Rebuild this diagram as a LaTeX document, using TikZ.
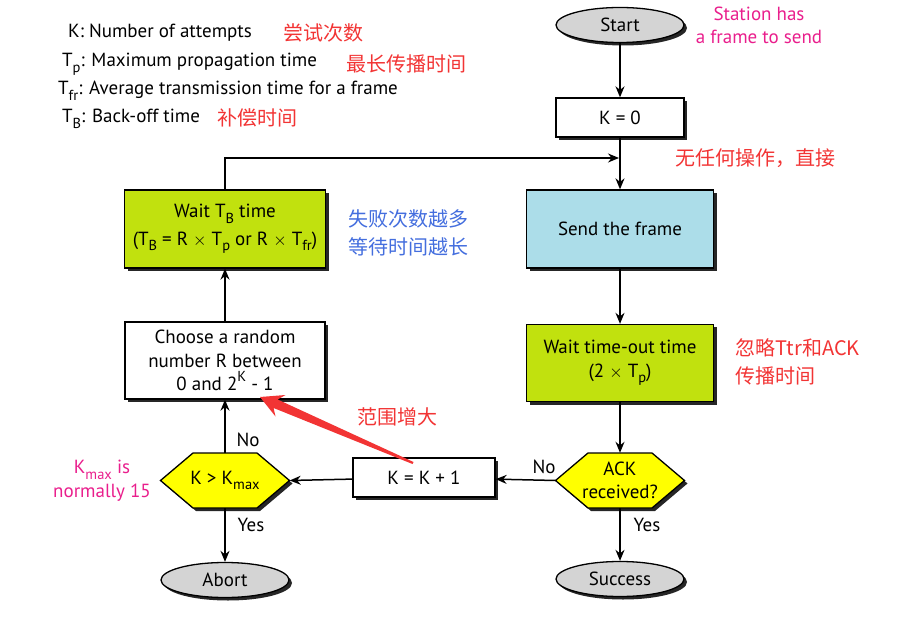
\documentclass[tikz,border=0pt]{standalone}
\usepackage{fontspec}
\setmainfont{PT Sans}
\newfontfamily\cjk{Noto Sans CJK SC}
\usetikzlibrary{shapes.geometric,arrows.meta,shadows,calc}
\definecolor{boxgreen}{RGB}{193,225,14}
\definecolor{boxblue}{RGB}{172,221,233}
\definecolor{termgray}{RGB}{212,212,212}
\definecolor{hexyellow}{RGB}{255,255,0}
\definecolor{magtext}{RGB}{233,30,140}
\definecolor{cnred}{RGB}{242,52,52}
\definecolor{cnblue}{RGB}{68,110,222}
\newcommand\lo[1]{\raisebox{-0.3em}{\fontsize{14.5}{14.5}\selectfont #1}}
\newcommand\hi[1]{\raisebox{0.5em}{\fontsize{14.5}{14.5}\selectfont #1}}
\newcommand\tms{\ensuremath{\times}}
\begin{document}
\begin{tikzpicture}[x=1pt,y=-1pt,
  font=\fontsize{19}{23.5}\selectfont,
  shad/.style={drop shadow={shadow xshift=3pt,shadow yshift=-3pt,fill=black!85,opacity=1}},
  base/.style={draw=black,line width=1.3pt,align=center,inner sep=2pt,shad},
  proc/.style={base,rectangle,fill=white},
  term/.style={base,ellipse,fill=termgray,minimum width=128pt,minimum height=35pt},
  hexa/.style={draw=black,line width=1.3pt,fill=hexyellow,shad},
  dectext/.style={rectangle,minimum width=129pt,minimum height=55pt,inner sep=0pt,align=center},
  flow/.style={line width=1.5pt,-{Stealth[length=11pt,width=9pt]}},
  lbl/.style={inner sep=0pt},
  cn/.style={inner sep=0pt,font=\cjk\fontsize{20}{28}\selectfont},
  note/.style={inner sep=0pt,align=center,text=magtext}]
\useasboundingbox (0,0) rectangle (907,617);

% legend
\node[lbl,anchor=base west] (lk) at (68,38) {K: Number of attempts};
\node[lbl,anchor=base west] (lp) at (62,67) {T\lo{p}: Maximum propagation time};
\node[lbl,anchor=base west] (lf) at (58,95) {T\lo{fr}: Average transmission time for a frame};
\node[lbl,anchor=base west] (lb) at (62,123) {T\lo{B}: Back-off time};
\node[cn,text=cnred,anchor=west] (ck) at (283,33) {尝试次数};
\node[cn,text=cnred,anchor=west] (cp) at (346,64) {最长传播时间};
\node[cn,text=cnred,anchor=west] (cb) at (217,118) {补偿时间};

% right column
\node[term] (start) at (620,25) {Start};
\node[note] (station) at (759,25.5) {Station has\\a frame to send};
\node[proc,minimum width=128pt,minimum height=39pt] (k0) at (620,117.5) {K = 0};
\coordinate (join) at (619,158);
\node[cn,text=cnred,anchor=west] (direct) at (675,158) {无任何操作，直接};
\node[proc,fill=boxblue,minimum width=187pt,minimum height=78pt] (send) at (620,229) {Send the frame};
\node[proc,fill=boxgreen,minimum width=187pt,minimum height=77pt] (waitto) at (620,363) {Wait time-out time\\(2 \tms{} T\lo{p})};
\node[cn,text=cnred,anchor=north west,align=left] (ignore) at (735,338) {忽略Ttr和ACK\\传播时间};

\coordinate (ackc) at (620,480.5);
\filldraw[hexa] ($(ackc)+(-64.5,0)$) -- ($(ackc)+(-32,-27.5)$) -- ($(ackc)+(32,-27.5)$)
  -- ($(ackc)+(64.5,0)$) -- ($(ackc)+(32,27.5)$) -- ($(ackc)+(-32,27.5)$) -- cycle;
\node[dectext] (ack) at (ackc) {ACK\\received?};
\node[term] (success) at (620,579) {Success};

% left column
\node[proc,fill=boxgreen,minimum width=201pt,minimum height=78pt] (waittb) at (225,229) {Wait T\lo{B} time\\[4pt](T\lo{B} = R \tms{} T\lo{p} or R \tms{} T\lo{fr})};
\node[cn,text=cnblue,anchor=north west,align=left] (fail) at (348,209) {失败次数越多\\等待时间越长};
\node[proc,minimum width=200pt,minimum height=77pt] (choose) at (225,360.5) {Choose a random\\number R between\\0 and 2\hi{K} - 1};
\node[proc,minimum width=142pt,minimum height=39pt] (kinc) at (424,477.5) {K = K + 1};

\coordinate (kmaxc) at (225,480.5);
\filldraw[hexa] ($(kmaxc)+(-64.5,0)$) -- ($(kmaxc)+(-32,-27.5)$) -- ($(kmaxc)+(32,-27.5)$)
  -- ($(kmaxc)+(64.5,0)$) -- ($(kmaxc)+(32,27.5)$) -- ($(kmaxc)+(-32,27.5)$) -- cycle;
\node[dectext] (kmax) at (kmaxc) {K > K\lo{max}};
\node[term] (abort) at (225,580) {Abort};
\node[note] (kmaxnote) at (102,480.5) {K\lo{max} is\\normally 15};

% connectors
\draw[flow] (start) -- (k0);
\draw[flow] (k0) -- (send);
\draw[flow] (waittb.north) |- (join);
\draw[flow] (send) -- (waitto);
\draw[flow] (waitto) -- (ack.north);
\draw[flow] (ack.south) -- (success);
\draw[flow] (ack.west) -- (kinc);
\draw[flow] (kinc) -- (kmax.east);
\draw[flow] (kmax.south) -- (abort);
\draw[flow] (kmax.north) -- (choose);
\draw[flow] (choose) -- (waittb);

\node[lbl] (no1) at (248,440) {No};
\node[lbl] (yes1) at (251,525) {Yes};
\node[lbl] (no2) at (544,467) {No};
\node[lbl] (yes2) at (647,525) {Yes};

% red annotation arrow
\coordinate (rtip) at (260,397);
\coordinate (rtail) at (413,463);
\fill[cnred] (rtip) -- (285.5,395) -- (277.6,399.5) -- (413.5,462) -- (412.5,464)
  -- (273.6,408) -- (275.5,416.5) -- cycle;
\node[cn,text=cnred,anchor=west] (range) at (357,417) {范围增大};
\end{tikzpicture}
\end{document}
